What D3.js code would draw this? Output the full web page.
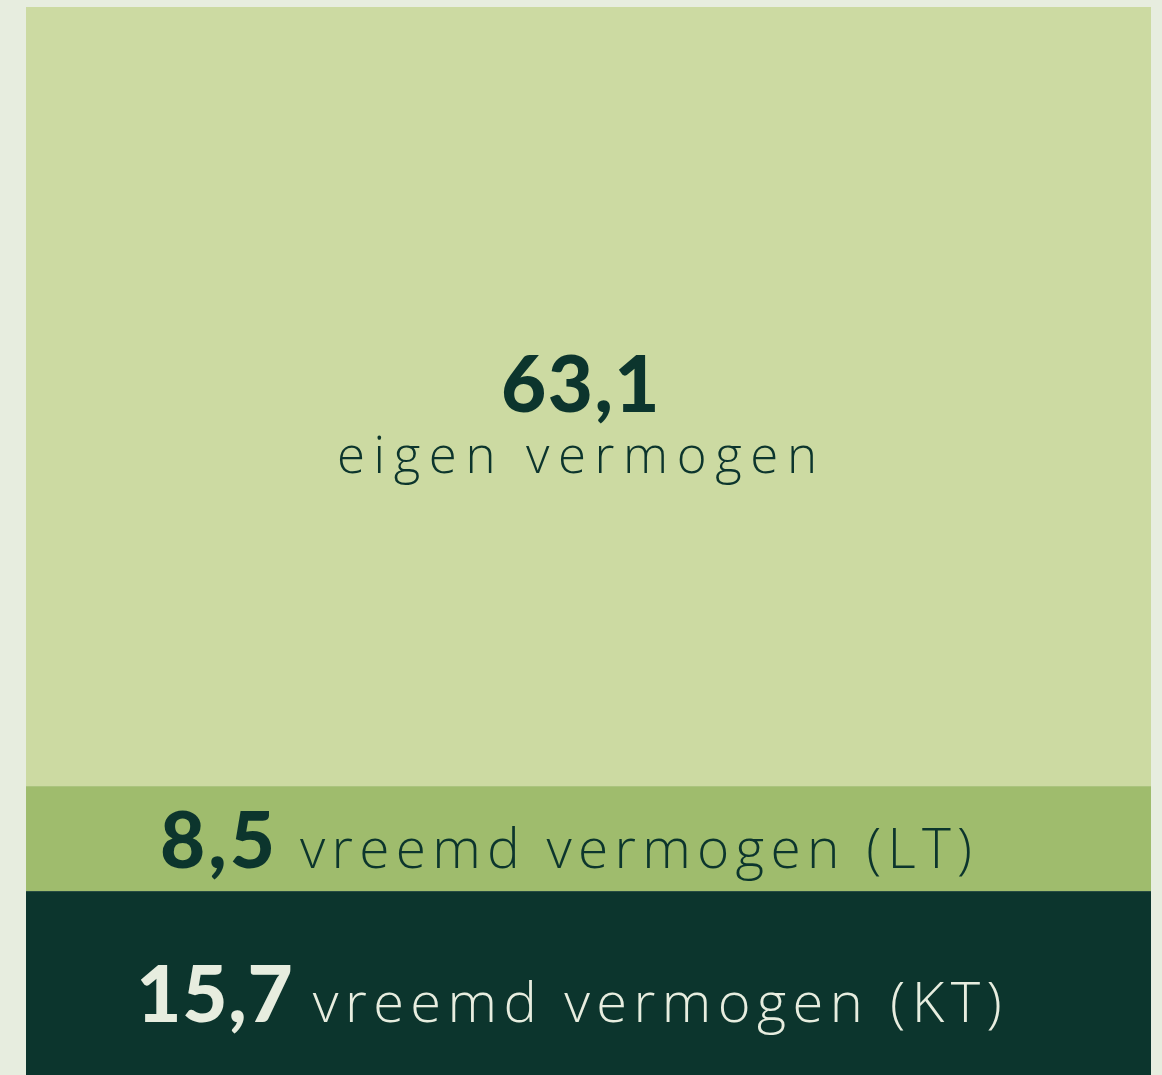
<!DOCTYPE html>
<html><head><meta charset="utf-8">
<script src="https://cdn.jsdelivr.net/npm/d3@7"></script>
<style>
html,body{margin:0;padding:0;background:#e7eddf;overflow:hidden}
svg{display:block}
</style></head>
<body><div id="chart"></div>
<script>
const categories = ["eigen vermogen", "vreemd vermogen (LT)", "vreemd vermogen (KT)"];
const values = [63.1, 8.5, 15.7];
const valueLabels = ["63,1", "8,5", "15,7"];
const colors = ["#ccdaa2", "#9fbc6d", "#0c352d"];
const textColors = ["#0c352d", "#0c352d", "#e7eddf"];

const W = 1162, H = 1075;
const svg = d3.select("#chart").append("svg").attr("width", W).attr("height", H);

const total = d3.sum(values);
const stacked = values.map((v, i) => ({cat: categories[i], v, lbl: valueLabels[i], i,
  y0: d3.sum(values.slice(0, i)), y1: d3.sum(values.slice(0, i + 1))}));

const x = d3.scaleBand().domain(["balans"]).range([26, 1151]).padding(0);
const y = d3.scaleLinear().domain([0, total]).range([7, 1085]);

svg.selectAll("rect.seg").data(stacked).join("rect")
  .attr("class", "seg")
  .attr("x", x("balans")).attr("width", x.bandwidth())
  .attr("y", d => y(d.y0)).attr("height", d => y(d.y1) - y(d.y0))
  .attr("fill", d => colors[d.i]);

const numFont = "Lato, 'Open Sans', sans-serif";
const lblFont = "'Open Sans', sans-serif";
const numSize = 78;

// fit a label to a target width by adjusting letter-spacing
function fit(t, target) {
  const n = t.text().length;
  const w = t.node().getComputedTextLength();
  const ls = Math.max(0, (target - w) / (n - 1));
  t.attr("letter-spacing", ls);
  return ls;
}

// Segment 1: stacked label, centered
const s0 = stacked[0];
const cx0 = 581;
const mid0 = (y(s0.y0) + y(s0.y1)) / 2;
svg.append("text").attr("x", cx0).attr("y", mid0 + 15)
  .attr("text-anchor", "middle").attr("font-family", numFont).attr("font-weight", 900)
  .attr("font-size", numSize).attr("fill", textColors[0]).attr("letter-spacing", 1.5).text(s0.lbl);
const t0 = svg.append("text").attr("y", mid0 + 76)
  .attr("font-family", lblFont).attr("font-weight", 300)
  .attr("font-size", 51).attr("fill", textColors[0]).text(s0.cat);
fit(t0, 480);
t0.attr("x", 337);

// Segments 2,3: inline label
const cfg = {
  1: {dy: 29, lblSize: 55, lw: 672, nls: 3, cx: 566, gap: 25},
  2: {dy: 34, lblSize: 56, lw: 689, nls: 0.8, cx: 569, gap: 20}
};
stacked.slice(1).forEach(d => {
  const c = cfg[d.i];
  const mid = (y(d.y0) + y(d.y1)) / 2;
  const base = d.i === 1 ? mid + c.dy : Math.min(mid + c.dy, 1022);
  const g = svg.append("g");
  const n = g.append("text").attr("y", base).attr("font-family", numFont).attr("font-weight", 900)
    .attr("font-size", numSize).attr("letter-spacing", c.nls).attr("fill", textColors[d.i]).text(d.lbl);
  const l = g.append("text").attr("y", base).attr("font-family", lblFont).attr("font-weight", 300)
    .attr("font-size", c.lblSize).attr("fill", textColors[d.i]).text(d.cat);
  fit(l, c.lw);
  const nw = n.node().getComputedTextLength() - c.nls;
  const totalW = nw + c.gap + c.lw;
  const start = c.cx - totalW / 2;
  n.attr("x", start);
  l.attr("x", start + nw + c.gap);
});
</script></body></html>
